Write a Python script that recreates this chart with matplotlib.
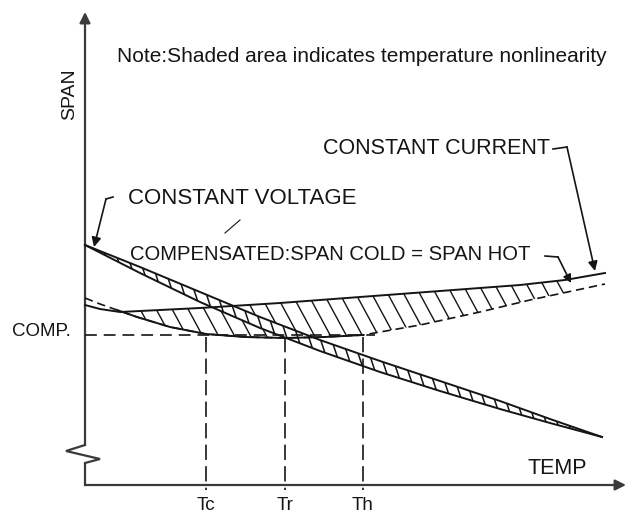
import matplotlib
matplotlib.use("Agg")
import matplotlib.pyplot as plt
import numpy as np
from matplotlib.collections import LineCollection

# curves (temp along x, span up); axes origin at (0, 0)
cv_t = [0, 55, 115, 175, 235, 295, 355, 415, 465, 517]
cv_hi = [240, 218, 193, 168, 145, 124, 104, 84, 66, 48]
cv_lo = [240, 212, 183, 157, 134, 113, 94, 76, 62, 48]

cc_t = [0, 15, 35, 75, 115, 195, 275, 355, 435, 480, 520]
cc_s = [180, 176, 173, 175, 177, 182, 188, 194, 200, 205, 212]

comp_t = [0, 15, 32, 52, 85, 121, 160, 200, 240, 278, 335, 395, 445, 492, 520]
comp_s = [187, 181, 175, 168, 158, 151, 148, 147, 148, 150, 160, 173, 185, 195, 201]

comp_level = 150
t_marks = [121, 200, 278]
t_labels = ["Tc", "Tr", "Th"]
shade_from, shade_to = 33, 482

ink = "#151515"
axcol = "#3a3a3a"

plt.rcParams["font.family"] = ["Liberation Sans", "DejaVu Sans"]
plt.rcParams["lines.scale_dashes"] = False

fig = plt.figure(figsize=(6.27, 5.18), dpi=100)
ax = fig.add_axes([0, 0, 1, 1])
ax.set_xlim(-85, 542)
ax.set_ylim(-33, 485)
ax.axis("off")

# ---- axes with break on the span axis
ax.plot([0, 0, -19, 15, 0, 0], [40, 40, 34, 26, 22, 0], color=axcol, lw=1.6,
        solid_joinstyle="miter")
ax.annotate("", xy=(0, 473), xytext=(0, 40),
            arrowprops=dict(arrowstyle="-|>", lw=1.6, color=axcol,
                            mutation_scale=16, shrinkA=0, shrinkB=0))
ax.annotate("", xy=(541, 0), xytext=(0, 0),
            arrowprops=dict(arrowstyle="-|>", lw=1.6, color=axcol,
                            mutation_scale=16, shrinkA=0, shrinkB=0))


def hatch(poly_t, poly_top, poly_bot, step, slope, z, lw=1.0):
    # parallel strokes clipped to the region between two curves
    verts = np.column_stack([np.r_[poly_t, poly_t[::-1]],
                             np.r_[poly_top, poly_bot[::-1]]])
    patch = plt.Polygon(verts, closed=True, fc="white", ec="none", zorder=z)
    ax.add_patch(patch)
    segs = [[(c, 300), (c + 300 / slope, 0)] for c in np.arange(-300, 650, step)]
    lc = LineCollection(segs, colors=ink, linewidths=lw, zorder=z + 0.5)
    ax.add_collection(lc)
    lc.set_clip_path(patch)


# shaded nonlinearity of the constant current / compensated pair
tf = np.linspace(shade_from, shade_to, 200)
hatch(tf, np.interp(tf, cc_t, cc_s), np.interp(tf, comp_t, comp_s),
      step=16, slope=1.85, z=2)

# constant voltage band
tv = np.linspace(cv_t[0], cv_t[-1], 300)
hatch(tv, np.interp(tv, cv_t, cv_hi), np.interp(tv, cv_t, cv_lo),
      step=11, slope=3.0, z=3, lw=1.1)
ax.plot(cv_t, cv_hi, color=ink, lw=1.4, zorder=5)
ax.plot(cv_t, cv_lo, color=ink, lw=1.4, zorder=5)

# constant current
ax.plot(cc_t, cc_s, color=ink, lw=1.4, zorder=5)

# compensated: dashed outside the shading, solid under it
comp_t_arr = np.array(comp_t)
comp_s_arr = np.array(comp_s)
ax.plot(comp_t, comp_s, color=ink, lw=1.2, dashes=(6, 3.5), zorder=5)
mid = (comp_t_arr >= 32) & (comp_t_arr <= 278)
ax.plot(comp_t_arr[mid], comp_s_arr[mid], color=ink, lw=1.4, zorder=5)

# COMP level and temperature marks
ax.plot([0, 290], [comp_level, comp_level], color=ink, lw=1.2, dashes=(8.5, 5), zorder=4)
for tm, lab in zip(t_marks, t_labels):
    ax.plot([tm, tm], [comp_level - 2, -5], color=ink, lw=1.2, dashes=(11, 4.5), zorder=4)
    ax.text(tm, -21, lab, ha="center", va="center", fontsize=13.5, color=ink)

# labels
ax.text(-15, 391, "SPAN", rotation=90, ha="center", va="center", fontsize=14, color=ink)
ax.text(443, 17, "TEMP", ha="left", va="center", fontsize=15.5, color=ink)
ax.text(-73, 153, "COMP.", ha="left", va="center", fontsize=13.5, color=ink)
ax.text(32, 428, "Note:Shaded area indicates temperature nonlinearity",
        ha="left", va="center", fontsize=15, color=ink)

ax.text(238, 337, "CONSTANT CURRENT", ha="left", va="center", fontsize=15.5, color=ink)
ax.plot([468, 482], [336, 338], color=ink, lw=1.2)
ax.annotate("", xy=(510, 214), xytext=(482, 338),
            arrowprops=dict(arrowstyle="-|>", lw=1.2, color=ink,
                            mutation_scale=14, shrinkA=0, shrinkB=0))

ax.text(43, 287, "CONSTANT VOLTAGE", ha="left", va="center", fontsize=16, color=ink)
ax.plot([28, 21], [288, 286], color=ink, lw=1.2)
ax.annotate("", xy=(9, 238), xytext=(21, 286),
            arrowprops=dict(arrowstyle="-|>", lw=1.2, color=ink,
                            mutation_scale=14, shrinkA=0, shrinkB=0))
ax.plot([140, 155], [252, 265], color=ink, lw=0.8)

ax.text(45, 230, "COMPENSATED:SPAN COLD = SPAN HOT", ha="left", va="center",
        fontsize=14.6, color=ink)
ax.plot([460, 473], [229, 228], color=ink, lw=1.2)
ax.annotate("", xy=(486, 202), xytext=(473, 228),
            arrowprops=dict(arrowstyle="-|>", lw=1.2, color=ink,
                            mutation_scale=12, shrinkA=0, shrinkB=0))

fig.savefig("out.png", dpi=100, facecolor="white")
